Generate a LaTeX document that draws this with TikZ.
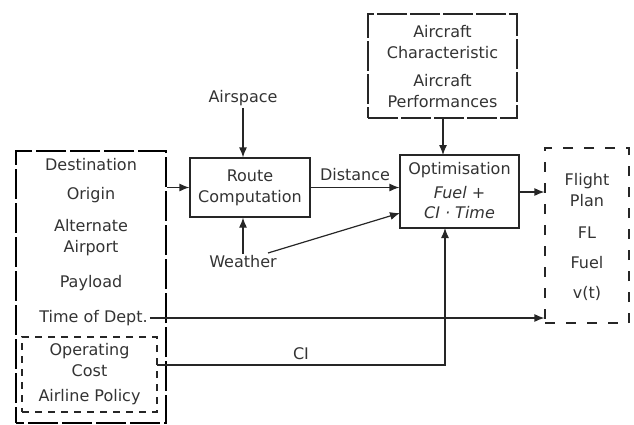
\documentclass[tikz,border=0pt]{standalone}
\usepackage{fontspec}
\setmainfont{DejaVu Sans}
\usetikzlibrary{arrows.meta,calc}
\begin{document}
\begin{tikzpicture}[x=1pt,y=-1pt,
  every node/.style={font=\fontsize{16}{21}\selectfont, text=black!80, align=center, inner sep=2pt},
  box/.style={draw=black!85, line width=1.2pt, rectangle, inner sep=0pt},
  inbox/.style={draw=black, line width=2pt, dash pattern=on 30pt off 4pt, dash phase=22pt, rectangle, inner sep=0pt},
  acbox/.style={draw=black!85, line width=1.2pt, dash pattern=on 30pt off 3pt, rectangle, inner sep=0pt},
  fpbox/.style={draw=black!85, line width=1.2pt, dash pattern=on 10pt off 11pt, rectangle, inner sep=0pt},
  opbox/.style={draw=black!85, line width=1.2pt, dash pattern=on 7pt off 6pt, rectangle, inner sep=0pt},
  conn/.style={draw=black!85, line width=1.2pt},
  arr/.style={conn, -{Latex[length=10pt,width=8pt]}}]
\useasboundingbox (0,0) rectangle (634,424);

% input data block
\node[inbox, minimum width=150pt, minimum height=272pt] (inputs) at (91,287) {};
\node[opbox, minimum width=135pt, minimum height=75pt] (cost) at (89.5,374.5) {};
\node (dest) at (91,165) {Destination};
\node (orig) at (91,195) {Origin};
\node (alt) at (91,238) {Alternate\\Airport};
\node (pay) at (91,283) {Payload};
\node (tod) at (93.5,318) {Time of Dept.};
\node (opc) at (89.5,360) {Operating\\Cost};
\node (pol) at (89.5,397) {Airline Policy};

% route computation
\node[box, minimum width=120pt, minimum height=59pt] (route) at (250,187.5) {Route\\Computation};
\node (air) at (243,98) {Airspace};
\node (wx) at (243,262) {Weather};

% optimisation
\node[box, minimum width=119pt, minimum height=73pt] (opt) at (459.5,191.5) {};
\node at (459.5,170) {Optimisation};
\node at (459.5,193) {\itshape Fuel +};
\node at (459.5,213) {\itshape CI · Time};

% aircraft data
\node[acbox, minimum width=149pt, minimum height=104pt] (acft) at (442.5,66) {};
\node (acchar) at (442.5,42) {Aircraft\\Characteristic};
\node (acperf) at (442.5,91.5) {Aircraft\\Performances};

% flight plan output
\node[fpbox, minimum width=84pt, minimum height=175pt] (fp) at (587,235.5) {};
\node at (587,190) {Flight\\Plan};
\node at (587,233) {FL};
\node at (587,263) {Fuel};
\node at (587,293) {v(t)};

% helper points for the off-centre connector ends
\coordinate (acdrop) at (443,118);
\coordinate (acin) at (443,155);
\coordinate (wxout) at (268,253);
\coordinate (wxin) at (400,213);
\coordinate (ciout) at (157,365);
\coordinate (cicorner) at (445,365);
\coordinate (ciin) at (445,228);

% connectors
\draw[arr] (inputs.east |- route.west) -- (route.west);
\draw[arr] (air.south) -- (air.south |- route.north);
\draw[arr] (wx.north) -- (wx.north |- route.south);
\draw[arr] (route.east) -- node[above=4pt] (dist) {Distance} (route.east -| opt.west);
\draw[arr] (wxout) -- (wxin);
\draw[arr] (acdrop) -- (acin);
\draw[arr] (opt.east |- 0,192) -- (fp.west |- 0,192);
\draw[arr] (tod.east) -- (tod.east -| fp.west);
\draw[arr] (ciout) -- node[above=3pt] (ci) {CI} (cicorner) -- (ciin);
\end{tikzpicture}
\end{document}
